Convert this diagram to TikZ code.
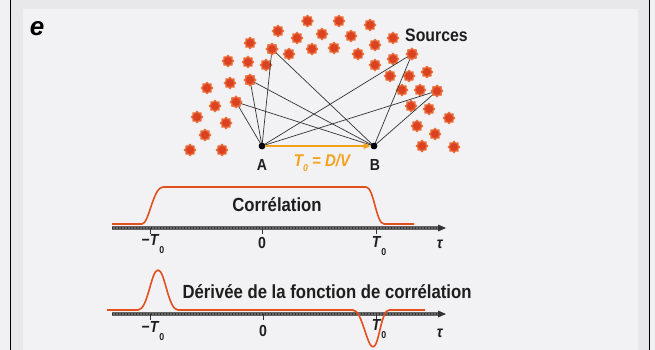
\documentclass[tikz,border=0pt]{standalone}
\usepackage{fontspec}
\setmainfont{Liberation Sans}
\newfontfamily\condfont[FakeStretch=0.88]{Liberation Sans}
\usetikzlibrary{shapes.geometric,arrows.meta}
\definecolor{bgout}{HTML}{E8E8EA}
\definecolor{bgleft}{HTML}{F1F1F3}
\definecolor{bgpanel}{HTML}{F2F2F4}
\definecolor{starred}{HTML}{DA4222}
\definecolor{starfringe}{HTML}{EC7440}
\definecolor{curvec}{HTML}{E2501E}
\definecolor{axisc}{HTML}{666666}
\definecolor{axisd}{HTML}{333333}
\definecolor{orangec}{HTML}{F2A31B}
\definecolor{textc}{HTML}{1E1E1E}
\begin{document}
\begin{tikzpicture}[x=1pt,y=-1pt,
  src/.style={star, star points=8, star point ratio=1.35, minimum size=11.5pt, inner sep=0pt, fill=starred, draw=starfringe, line width=1.2pt, line join=round},
  ray/.style={draw=black!80, line width=0.7pt},
  station/.style={circle, fill=black, inner sep=0pt, minimum size=6.5pt},
  lbl/.style={text=textc, font=\fontsize{19}{19}\condfont\bfseries, inner sep=0pt},
  ablbl/.style={text=textc, font=\fontsize{16}{16}\condfont\bfseries, inner sep=0pt},
  ticklbl/.style={text=textc, font=\fontsize{16}{16}\condfont\bfseries, inner sep=0pt},
  axisbase/.style={draw=axisc, line width=3.2pt},
  axishatch/.style={draw=axisd, line width=2.2pt, dash pattern=on 0.8pt off 2.2pt},
  curve/.style={draw=curvec, line width=1.6pt, line join=round},
  tickmark/.style={draw=axisd, line width=1pt}]
\useasboundingbox (0,0) rectangle (655,350);
% backgrounds
\fill[bgout] (0,0) rectangle (655,350);
\fill[bgleft] (0,0) rectangle (10,350);
\fill[bgleft] (650,0) rectangle (655,350);
\fill[bgpanel] (23,9) rectangle (638,350);
\draw[black, line width=1.3pt] (10.5,0) -- (10.5,350);
\draw[black, line width=1.3pt] (649.3,0) -- (649.3,350);
% panel letter
\node[text=black, font=\fontsize{26}{26}\selectfont\bfseries\itshape, inner sep=0pt] (elbl) at (37,29) {e};
% sources
\foreach \n/\x/\y in {1/307.5/21, 2/339/21, 3/370/25, 4/278/31, 5/297/38, 6/322/34, 7/351/36, 8/393/38,
  9/250/43, 10/272/49, 11/289/54, 12/312/49, 13/334/48, 14/358/54, 15/375/45, 16/412/54,
  17/393/59, 18/375/65, 19/228/61, 20/248/62, 21/266/65, 22/390/76, 23/409/76, 24/427/72,
  25/207/88, 26/230/83, 27/250/80, 28/402/90, 29/420/90, 30/437/91, 31/215/106, 32/236/102,
  33/411/106, 34/429/109, 35/197/117, 36/226/123, 37/449/118, 38/205/135, 39/417/126,
  40/435/134, 41/190/150, 42/222/150, 43/422/146, 44/454/147}
  \node[src] (s\n) at (\x,\y) {};
\node[lbl, font=\fontsize{18}{18}\condfont\bfseries, anchor=west] (srclbl) at (405,35) {Sources};
% stations
\node[station] (A) at (262,146) {};
\node[station] (B) at (374,146) {};
% rays
\foreach \s in {10,27,32,16,30} {
  \draw[ray] (s\s.center) -- (A.center);
  \draw[ray] (s\s.center) -- (B.center);
}
\foreach \s in {10,27,32,16,30} \node[src] at (s\s) {};
\node[station] at (A) {};
\node[station] at (B) {};
\node[ablbl] (Albl) at (262,165) {A};
\node[ablbl] (Blbl) at (375,165) {B};
\draw[draw=orangec, line width=2pt, -{Triangle[length=7pt,width=6pt]}] (A.east) -- (B.west);
\node[text=orangec, font=\fontsize{17}{17}\condfont\bfseries\itshape, inner sep=0pt] (tlbl) at (322,163)
  {T\raisebox{-5pt}{\fontsize{10}{10}\selectfont 0} = D/V};
% correlation axis
\coordinate (ax1s) at (112,228);
\coordinate (ax1e) at (440,228);
\draw[axisbase] (ax1s) -- (ax1e);
\draw[axishatch] (ax1s) -- (ax1e);
\fill[axisd] (446,228) -- (438,224.5) -- (438,231.5) -- cycle;
\foreach \t in {150,262,376} \draw[tickmark] (\t,228) -- (\t,234);
\draw[curve] (112,224) -- (142,224) .. controls (149,224) and (153,187) .. (163,187) -- (366,187)
  .. controls (374,187) and (376,224) .. (384,224) -- (414,224);
\node[lbl] (corr) at (277,205) {Corrélation};
\node[ticklbl] (m1) at (153,244) {−\textit{T}\raisebox{-8pt}{\fontsize{10}{10}\selectfont 0}};
\node[ticklbl] (z1) at (262,243) {0};
\node[ticklbl] (p1) at (379,246) {\textit{T}\raisebox{-8pt}{\fontsize{10}{10}\selectfont 0}};
\node[ticklbl] (tau1) at (440,244) {\textit{τ}};
% derivative axis
\coordinate (ax2s) at (112,314);
\coordinate (ax2e) at (440,314);
\draw[axisbase] (ax2s) -- (ax2e);
\draw[axishatch] (ax2s) -- (ax2e);
\fill[axisd] (446,314) -- (438,310.5) -- (438,317.5) -- cycle;
\foreach \t in {150,263,376} \draw[tickmark] (\t,314) -- (\t,320);
\draw[curve] (107,310) -- (138,310) .. controls (148,310) and (151,270) .. (158,270)
  .. controls (165,270) and (168,310) .. (178,310) -- (353,310)
  .. controls (362,310) and (367,347) .. (373,347)
  .. controls (379,347) and (381,310) .. (389,310) -- (425,310);
\node[lbl] (deriv) at (327,292) {Dérivée de la fonction de corrélation};
\node[ticklbl] (m2) at (153,331) {−\textit{T}\raisebox{-8pt}{\fontsize{10}{10}\selectfont 0}};
\node[ticklbl] (z2) at (263,331) {0};
\node[ticklbl] (p2) at (379,329) {\textit{T}\raisebox{-8pt}{\fontsize{10}{10}\selectfont 0}};
\node[ticklbl] (tau2) at (440,333) {\textit{τ}};
\end{tikzpicture}
\end{document}
